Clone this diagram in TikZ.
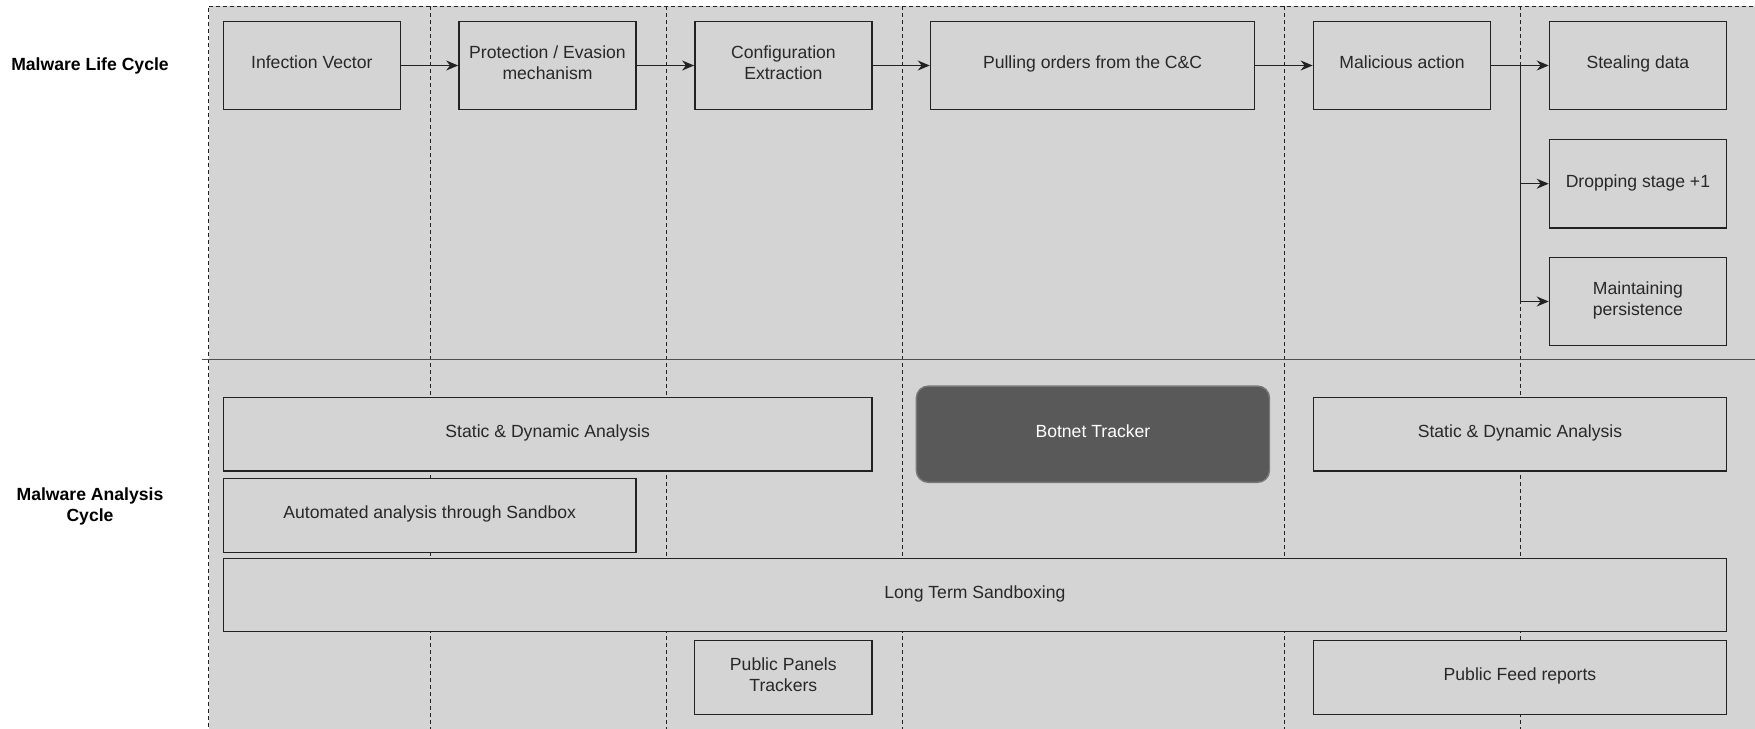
\documentclass[tikz,border=0pt]{standalone}
\usepackage{fontspec}
\setmainfont{Liberation Sans}
\usetikzlibrary{arrows.meta}
\definecolor{bggray}{RGB}{212,212,212}
\definecolor{linec}{RGB}{34,34,34}
\definecolor{textc}{RGB}{40,40,40}
\definecolor{botfill}{RGB}{89,89,89}
\definecolor{botdraw}{RGB}{120,120,120}
\tikzset{
  box/.style={draw=linec, line width=1.4pt, fill=bggray, rectangle, inner sep=2pt,
    align=center, text=textc, text depth=6pt, font=\fontsize{17.6}{20.7}\selectfont},
  lane/.style={draw=linec, line width=1pt, dash pattern=on 4pt off 3pt},
  flow/.style={draw=linec, line width=1.4pt, -{Stealth[length=12pt,width=10pt]}},
  plain/.style={draw=linec, line width=1.4pt},
  lbl/.style={align=center, font=\fontsize{17.6}{20.7}\selectfont\bfseries, text=black},
}
\begin{document}
\begin{tikzpicture}[x=1pt,y=-1pt]
\useasboundingbox (0,0) rectangle (1755,728);
% background
\fill[bggray] (208.5,6) rectangle (1760,735);
\draw[lane] (1760,6) -- (208.5,6) -- (208.5,735);
% lane separators
\foreach \xx in {430,666,902,1284,1520}{
  \draw[lane] (\xx,6) -- (\xx,735);
}
% horizontal divider
\draw[draw=linec!80, line width=1.6pt] (202,359.3) -- (1760,359.3);
% labels
\node[lbl] (lifelbl) at (90,65.5) {Malware Life Cycle};
\node[lbl] (analbl) at (90,506.7) {Malware Analysis\\Cycle};
% top row
\node[box, minimum width=177.2pt, minimum height=88.4pt] (inf) at (311.8,65.5) {Infection Vector};
\node[box, minimum width=177.3pt, minimum height=88.4pt] (prot) at (547.5,65.5) {Protection / Evasion\\mechanism};
\node[box, minimum width=177.2pt, minimum height=88.4pt] (conf) at (783.4,65.5) {Configuration\\Extraction};
\node[box, minimum width=324.3pt, minimum height=88.4pt] (pull) at (1092.6,65.5) {Pulling orders from the C\&C};
\node[box, minimum width=177.3pt, minimum height=88.4pt] (mal) at (1402,65.5) {Malicious action};
\node[box, minimum width=177pt, minimum height=88.4pt] (steal) at (1637.9,65.5) {Stealing data};
\node[box, minimum width=177pt, minimum height=88.7pt] (drop) at (1637.9,183.7) {Dropping stage +1};
\node[box, minimum width=177pt, minimum height=88.4pt] (maint) at (1637.9,301.5) {Maintaining\\persistence};
% arrows
\draw[flow] (inf.east) -- (prot.west);
\draw[flow] (prot.east) -- (conf.west);
\draw[flow] (conf.east) -- (pull.west);
\draw[flow] (pull.east) -- (mal.west);
\draw[flow] (mal.east) -- (steal.west);
\coordinate (br) at (1520.3,65.5);
\draw[plain] (br) -- (br |- maint.west);
\draw[flow] (br |- drop.west) -- (drop.west);
\draw[flow] (br |- maint.west) -- (maint.west);
% lower part
\node[box, minimum width=648.7pt, minimum height=73.7pt] (sdal) at (547.7,434.2) {Static \& Dynamic Analysis};
\node[box, draw=botdraw, fill=botfill, text=white, rounded corners=12pt, minimum width=353.2pt, minimum height=96.3pt] (bot) at (1092.9,434.2) {Botnet Tracker};
\node[box, minimum width=412.9pt, minimum height=73.7pt] (sdar) at (1520,434.2) {Static \& Dynamic Analysis};
\node[box, minimum width=412.7pt, minimum height=74pt] (auto) at (429.7,515.3) {Automated analysis through Sandbox};
\node[box, minimum width=1503.2pt, minimum height=73.4pt] (long) at (974.9,595) {Long Term Sandboxing};
\node[box, minimum width=177.4pt, minimum height=74pt] (panels) at (783.3,677.3) {Public Panels\\Trackers};
\node[box, minimum width=412.9pt, minimum height=74pt] (feed) at (1520,677.3) {Public Feed reports};
\end{tikzpicture}
\end{document}
